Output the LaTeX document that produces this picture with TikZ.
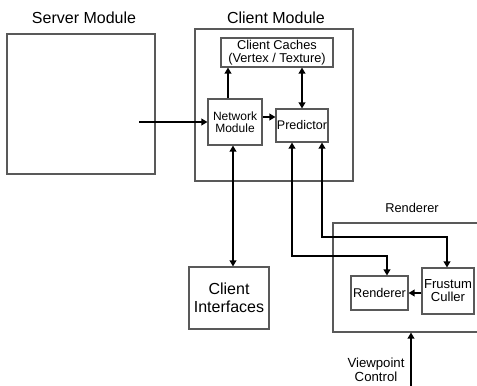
\documentclass[tikz,border=0pt]{standalone}
\usepackage{fontspec}
\setmainfont{Liberation Sans}
\usetikzlibrary{arrows.meta}
\begin{document}
\begin{tikzpicture}[x=0.75pt,y=-0.75pt,
  box/.style={draw=black!65,line width=0.8pt,inner sep=0pt,align=center},
  big/.style={font=\fontsize{12pt}{13.5pt}\selectfont},
  ttl/.style={inner sep=0pt,font=\fontsize{12pt}{13.5pt}\selectfont},
  arr/.style={line width=1.1pt,-{Triangle[length=4.5pt,width=5pt]}},
  arrb/.style={line width=1.1pt,{Triangle[length=4.5pt,width=5pt]}-{Triangle[length=4.5pt,width=5pt]}}]
\useasboundingbox (0,0) rectangle (477,385);
% outer boxes
\node[box,minimum width=111pt,minimum height=105pt] (server) at (81,104) {};
\node[ttl] (servert) at (84,18) {Server Module};
\node[box,minimum width=118.5pt,minimum height=114pt] (client) at (274,105) {};
\node[ttl] (clientt) at (276,18) {Client Module};
\node[box,minimum width=117.75pt,minimum height=81.75pt] (rout) at (411.5,277.5) {};
\node[inner sep=0pt,font=\fontsize{9.6pt}{11pt}\selectfont] (routt) at (412,208) {Renderer};
% inner boxes
\node[box,minimum width=84pt,minimum height=21.75pt,font=\fontsize{9.6pt}{9.4pt}\selectfont] (cache) at (277,52.5) {Client Caches\\(Vertex / Texture)};
\node[box,minimum width=40.5pt,minimum height=34.5pt,font=\fontsize{9pt}{9.2pt}\selectfont] (net) at (235,122) {Network\\Module};
\node[box,minimum width=39pt,minimum height=24.75pt,font=\fontsize{9.4pt}{10pt}\selectfont] (pred) at (302,125.5) {Predictor};
\node[box,big,minimum width=60pt,minimum height=46.5pt] (ci) at (229,298) {Client\\Interfaces};
\node[box,minimum width=42.75pt,minimum height=25.5pt,font=\fontsize{9.5pt}{10pt}\selectfont] (rin) at (379.5,293) {Renderer};
\node[box,minimum width=39pt,minimum height=34.5pt,font=\fontsize{9.8pt}{9.8pt}\selectfont] (frust) at (448,291) {Frustum\\Culler};
\node[inner sep=0pt,align=center,font=\fontsize{9.9pt}{9.2pt}\selectfont] (vp) at (376,369.5) {Viewpoint\\Control};
% helper coordinates
\coordinate (s) at (139,122);
\coordinate (k1) at (0,256);
\coordinate (k2) at (0,237);
\coordinate (vb) at (411,386);
% connectors
\draw[arr] (s) -- (s -| net.west);
\draw[arr] ([xshift=-5.25pt]net.north) coordinate (t) -- (t |- cache.south);
\draw[arr] ([yshift=3.75pt]net.east) coordinate (u) -- (u -| pred.west);
\draw[arrb] (pred.north) -- (pred.north |- cache.south);
\draw[arrb] ([xshift=-1.5pt]net.south) coordinate (v) -- (v |- ci.north);
\draw[arrb] ([xshift=-7.5pt]pred.south) coordinate (p1) -- (p1 |- k1) -| ([xshift=5.6pt]rin.north);
\draw[arrb] ([xshift=15pt]pred.south) coordinate (p2) -- (p2 |- k2) -| ([xshift=-0.75pt]frust.north);
\draw[arr] (frust.west |- rin) -- (rin.east);
\draw[arr] (vb) -- (vb |- rout.south);
\end{tikzpicture}
\end{document}
